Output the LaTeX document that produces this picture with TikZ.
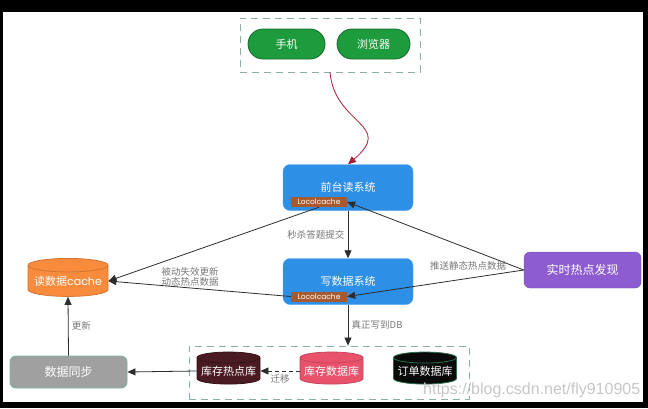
\documentclass[tikz,border=0pt]{standalone}
\usepackage{fontspec}
\setmainfont{Noto Sans CJK SC}
\newfontfamily\latinfont{Poppins}
\newfontfamily\markfont{Liberation Sans}
\usetikzlibrary{arrows.meta, positioning, shapes.geometric}
\definecolor{greenapp}{RGB}{30,155,61}
\definecolor{bluesys}{RGB}{45,143,230}
\definecolor{brownlc}{RGB}{166,90,46}
\definecolor{orangecache}{RGB}{249,139,60}
\definecolor{purplehot}{RGB}{140,92,208}
\definecolor{graysync}{RGB}{160,160,160}
\definecolor{tealedge}{RGB}{120,180,165}
\definecolor{maroondb}{RGB}{74,27,34}
\definecolor{pinkdb}{RGB}{232,82,107}
\definecolor{blackdb}{RGB}{10,10,10}
\definecolor{greenedge}{RGB}{40,110,75}
\definecolor{dashgray}{RGB}{140,175,170}
\definecolor{arrowgray}{RGB}{45,45,45}
\definecolor{redcurve}{RGB}{170,30,55}
\definecolor{labelgray}{RGB}{120,120,120}

\begin{document}
\begin{tikzpicture}[x=1pt, y=-1pt, font=\fontsize{11}{13}\selectfont,
        pill/.style={rectangle, rounded corners=15pt, draw=greenapp!70!black, fill=greenapp,
                     text=white, minimum height=30pt, line width=0.8pt},
        sysbox/.style={rectangle, rounded corners=7pt, draw=bluesys!80!white, fill=bluesys,
                     text=white, minimum width=130pt, minimum height=46pt},
        lcbox/.style={rectangle, fill=brownlc, text=white, minimum width=56pt,
                     minimum height=10pt, inner sep=0pt, font=\latinfont\fontsize{7.5}{8}\selectfont},
        dbcyl/.style={cylinder, shape border rotate=90, aspect=0.2, text=white,
                     minimum width=63pt, minimum height=32pt, inner sep=0pt, line width=0.8pt},
        grpbox/.style={rectangle, draw=dashgray, dash pattern=on 7pt off 5pt, line width=0.9pt},
        link/.style={-{Triangle[width=7pt,length=8pt]}, draw=arrowgray, line width=0.8pt},
        note/.style={text=labelgray, font=\fontsize{9.5}{10.5}\selectfont}
    ]
        % frame of the screenshot
        \fill[black] (0,0) rectangle (648,408);
        \fill[white] (3,12) rectangle (643,402);
        \useasboundingbox (0,0) rectangle (648,408);

        % clients
        \node[grpbox, minimum width=180pt, minimum height=54pt] (clients) at (330,45) {};
        \node[pill, minimum width=77pt] (phone) at (286.5,44) {手机};
        \node[pill, minimum width=73pt] (browser) at (373.5,44) {浏览器};

        % systems
        \node[sysbox] (readsys) at (348,187.5) {前台读系统};
        \node[lcbox] (readlc) at (319,202) {Locolcache};
        \node[sysbox] (writesys) at (348,281.5) {写数据系统};
        \node[lcbox] (writelc) at (319,296.5) {Locolcache};
        \node[rectangle, rounded corners=6pt, fill=purplehot, draw=purplehot!85!black, text=white,
              minimum width=117pt, minimum height=36pt, font=\fontsize{12}{14}\selectfont]
              (hotspot) at (582.5,270) {实时热点发现};

        % cache and sync
        \node[dbcyl, fill=orangecache, draw=orangecache!85!black, minimum width=80pt,
              minimum height=38pt] (readcache) at (68,281) {读数据{\latinfont cache}};
        \node[rectangle, rounded corners=6pt, fill=graysync, draw=tealedge, text=white,
              minimum width=117pt, minimum height=32pt, line width=0.9pt,
              font=\fontsize{12}{14}\selectfont] (datasync) at (68.5,372) {数据同步};

        % databases
        \node[grpbox, minimum width=280pt, minimum height=53pt] (dbgroup) at (329,372.5) {};
        \foreach \n/\x/\c/\b/\t in {
            hotdb/228.5/maroondb/maroondb!70!black/库存热点库,
            stockdb/331.5/pinkdb/pinkdb!85!black/库存数据库,
            orderdb/425/blackdb/greenedge/订单数据库}
        {
            \node[dbcyl, fill=\c, draw=\b] (\n) at (\x,371) {\t};
        }

        % connectors
        \draw[link, draw=redcurve] (clients.south) .. controls +(5,53) and +(47,-40) .. (readsys.north);
        \draw[link] (readsys.south) -- node[note, left] (lblsubmit) {秒杀答题提交} (writesys.north);
        \draw[link] (writesys.south) -- node[note, right] (lbldb) {真正写到DB} (writesys.south |- dbgroup.north);
        \draw[link] (readlc.south) -- (readcache.east);
        \draw[link] (writelc.west) -- (readcache.east);
        \node[note, align=center] (lblpassive) at (190,277) {被动失效更新\\动态热点数据};
        \draw[link] (hotspot.west) -- (readlc.east);
        \draw[link] (hotspot.west) -- (writelc.east);
        \node[note] (lblpush) at (468,266) {推送静态热点数据};
        \draw[link] (datasync.north) -- node[note, right] (lblupdate) {更新} (readcache.south);
        \draw[link] (hotdb.west) -- (datasync.east);
        \draw[link, dash pattern=on 4pt off 3pt] (stockdb.west) -- node[note, below] (lblmove) {迁移} (hotdb.east);

        % watermark
        \node[anchor=west, inner sep=0pt, text=black!22, font=\markfont\fontsize{16}{18}\selectfont]
              (mark) at (423,390) {https://blog.csdn.net/fly910905};
    \end{tikzpicture}
\end{document}
